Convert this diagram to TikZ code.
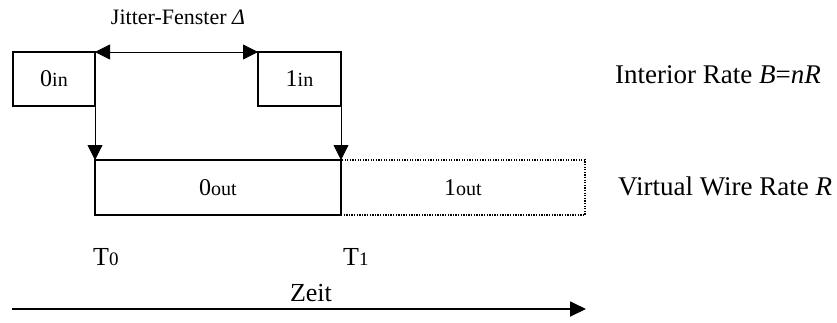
\documentclass[tikz,border=0pt]{standalone}
\usepackage{fontspec}
\setmainfont{Liberation Serif}
\usetikzlibrary{arrows.meta}
\newcommand\bxlab[3]{{\fontsize{#3}{#3}\selectfont #1}{\fontsize{20}{22}\selectfont #2}}
\begin{document}
\begin{tikzpicture}[x=1pt,y=-1pt,
  solidbox/.style={draw, line width=1.6pt, inner sep=0pt, outer sep=0pt, minimum height=54pt},
  dotbox/.style={draw, line width=1.4pt, dash pattern=on 1.3pt off 1.3pt, inner sep=0pt, outer sep=0pt, minimum height=55pt},
  conn/.style={line width=0.8pt, -{Triangle[length=15pt,width=15pt]}},
  jit/.style={line width=0.8pt, {Triangle[length=15pt,width=15pt]}-{Triangle[length=15pt,width=15pt]}},
  timeax/.style={line width=1.8pt, -{Triangle[length=16pt,width=15pt]}},
  lbl/.style={inner sep=0pt, font=\fontsize{27}{30}\selectfont}]
\useasboundingbox (0,0) rectangle (837,322);
% boxes
\node[solidbox, minimum width=82pt] (in0) at (54,79) {\bxlab{0}{in}{24}};
\node[solidbox, minimum width=83pt] (in1) at (299.5,79) {\bxlab{1}{in}{24}};
\node[dotbox, minimum width=244pt] (out1) at (463,187.5) {\bxlab{1}{out}{24}};
\node[solidbox, minimum width=246pt, minimum height=55pt] (out0) at (218,187.5) {\bxlab{0}{out}{24}};
% connectors
\draw[jit] (in0.north east) -- (in1.north west);
\draw[conn] (in0.south east) -- (out0.north west);
\draw[conn] (in1.south east) -- (out0.north east);
% labels
\node[inner sep=0pt, font=\fontsize{22}{26}\selectfont] (jlab) at (178,17) {Jitter-Fenster \textit{Δ}};
\node[lbl, anchor=west] (irate) at (615,75) {Interior Rate \textit{B}=\textit{nR}};
\node[lbl, anchor=west] (vrate) at (618,186) {Virtual Wire Rate \textit{R}};
\node[inner sep=0pt, anchor=west] (t0) at (93,257) {\bxlab{T}{\fontsize{19}{20}\selectfont 0}{26}};
\node[inner sep=0pt, anchor=west] (t1) at (343,257) {\bxlab{T}{\fontsize{19}{20}\selectfont 1}{26}};
\node[lbl, font=\fontsize{26}{28}\selectfont] (zeit) at (311,293) {Zeit};
% time axis
\coordinate (ta) at (12,309);
\coordinate (tb) at (586,309);
\draw[timeax] (ta) -- (tb);
\end{tikzpicture}
\end{document}
